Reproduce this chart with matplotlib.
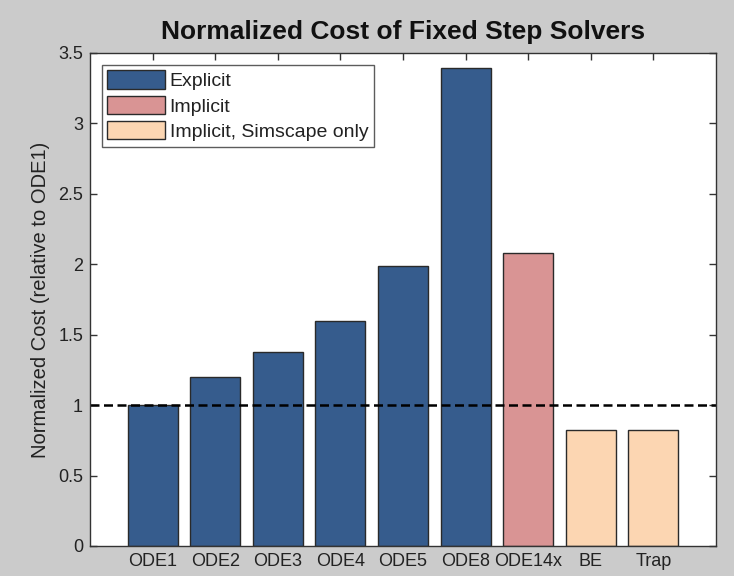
import matplotlib
matplotlib.use("Agg")
import matplotlib.pyplot as plt
from matplotlib.patches import Patch

categories = ['ODE1', 'ODE2', 'ODE3', 'ODE4', 'ODE5', 'ODE8', 'ODE14x', 'BE', 'Trap']
costs = [1.0, 1.2, 1.38, 1.6, 1.99, 3.39, 2.08, 0.82, 0.82]
groups = ['Explicit'] * 6 + ['Implicit'] + ['Implicit, Simscape only'] * 2
group_colors = {
    'Explicit': '#365C8D',
    'Implicit': '#D99494',
    'Implicit, Simscape only': '#FCD6B2',
}
reference_level = 1.0
yticks = [0, 0.5, 1, 1.5, 2, 2.5, 3, 3.5]
ytick_labels = ['0', '0.5', '1', '1.5', '2', '2.5', '3', '3.5']

plt.rcParams['font.family'] = ['Liberation Sans', 'DejaVu Sans']

fig = plt.figure(figsize=(7.34, 5.76), dpi=100, facecolor='#cbcbcb')
ax = fig.add_axes([0.1226, 0.0521, 0.8529, 0.8559])
ax.set_facecolor('white')

x = list(range(1, len(categories) + 1))
colors = [group_colors[g] for g in groups]
ax.bar(x, costs, width=0.8, color=colors, edgecolor='#2a2a2a', linewidth=1.0, zorder=2)
ax.axhline(reference_level, color='black', linewidth=1.8, linestyle=(0, (3.6, 1.8)), zorder=3)

ax.set_xlim(0, 10)
ax.set_ylim(0, 3.5)
ax.set_xticks(x)
ax.set_xticklabels(categories)
ax.set_yticks(yticks)
ax.set_yticklabels(ytick_labels)
ax.tick_params(axis='both', direction='in', length=5, width=1, color='#333333',
               labelsize=13, labelcolor='#222222', top=True, right=True, pad=5)
for s in ax.spines.values():
    s.set_color('#333333')
    s.set_linewidth(1.0)
    s.set_zorder(4)

ax.set_ylabel('Normalized Cost (relative to ODE1)', fontsize=14.5, color='#222222', labelpad=6)
ax.set_title('Normalized Cost of Fixed Step Solvers', fontsize=19, fontweight='bold',
             color='#111111', pad=10)

handles = [Patch(facecolor=group_colors[g], edgecolor='#2a2a2a', linewidth=1.0, label=g)
           for g in group_colors]
leg = ax.legend(handles=handles, loc='upper left', fontsize=14, frameon=True, fancybox=False,
                handlelength=2.95, handleheight=1.05, handletextpad=0.25, labelspacing=0.3,
                borderpad=0.3, borderaxespad=0.6)
leg.get_frame().set_edgecolor('#333333')
leg.get_frame().set_linewidth(1.0)
for t in leg.get_texts():
    t.set_color('#222222')

fig.savefig('out.png', dpi=100, facecolor=fig.get_facecolor())
